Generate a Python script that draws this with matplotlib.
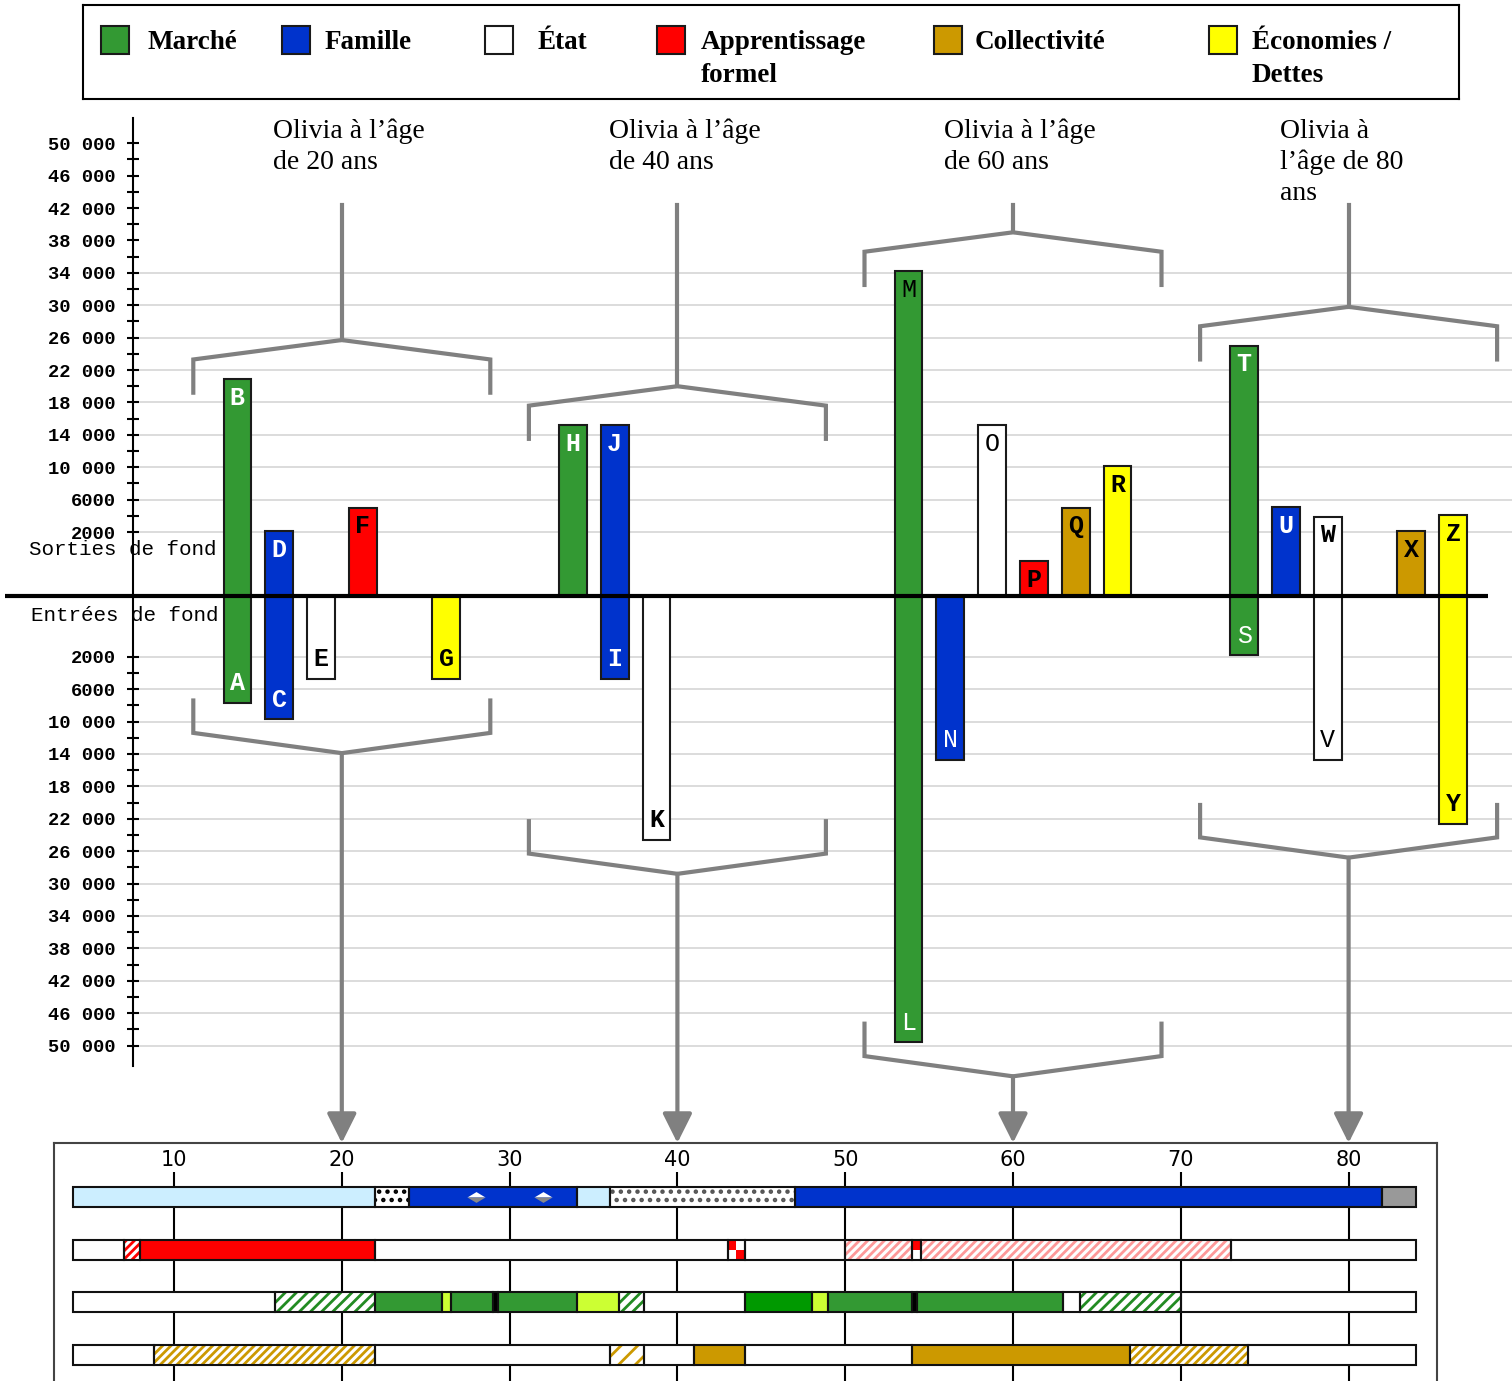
import numpy as np
import matplotlib.pyplot as plt
from matplotlib.patches import Rectangle
from matplotlib.path import Path

plt.rcParams['hatch.linewidth'] = 2.0

# ---------------- data ----------------
categories = ['Marché', 'Famille', 'État', 'Apprentissage\nformel', 'Collectivité', 'Économies /\nDettes']
cat_colors = ['#339933', '#0033cc', '#ffffff', '#ff0000', '#cc9900', '#ffff00']

group_ages = [20, 40, 60, 80]
group_titles = ['Olivia à l’âge\nde 20 ans', 'Olivia à l’âge\nde 40 ans',
                'Olivia à l’âge\nde 60 ans', 'Olivia à\nl’âge de 80\nans']

bar_letters = list('ABCDEFGHIJKLMNOPQRSTUVWXYZ')
bar_ages = [20] * 7 + [40] * 4 + [60] * 7 + [80] * 8
bar_cats = [0, 0, 1, 1, 2, 3, 5,
            0, 1, 1, 2,
            0, 0, 1, 2, 3, 4, 5,
            0, 0, 1, 2, 2, 4, 5, 5]
# milliers ; positif = sorties de fond, négatif = entrées de fond
bar_values = [-13.2, 26.8, -15.2, 8.0, -10.2, 10.9, -10.2,
              21.1, -10.2, 21.1, -30.1,
              -55.1, 40.1, -20.2, 21.1, 4.3, 10.9, 16.0,
              -7.3, 30.9, 11.0, -20.2, 9.8, 8.0, -28.1, 10.0]
light_letters = ['L', 'M', 'N', 'O', 'S', 'V']

tick_values = list(range(2000, 50001, 2000))

# timeline (ages)
tl_ticks = [10, 20, 30, 40, 50, 60, 70, 80]
row0_starts = [4, 22, 24, 34, 36, 47, 82]
row0_ends = [22, 24, 34, 36, 47, 82, 84]
row0_kinds = ['lightblue', 'dots_big', 'blue', 'lightblue', 'dots', 'blue', 'grey']
row1_starts = [4, 7, 8, 22, 43, 44, 50, 54, 54.5, 73]
row1_ends = [7, 8, 22, 43, 44, 50, 54, 54.5, 73, 84]
row1_kinds = ['blank', 'redhatch', 'red', 'blank', 'redcheck', 'blank', 'pinkhatch', 'redhalf', 'pinkhatch', 'blank']
row2_starts = [4, 16, 22, 26, 26.5, 29, 29.3, 34, 36.5, 38, 44, 48, 49, 54, 54.3, 63, 64, 70]
row2_ends = [16, 22, 26, 26.5, 29, 29.3, 34, 36.5, 38, 44, 48, 49, 54, 54.3, 63, 64, 70, 84]
row2_kinds = ['blank', 'greenhatch', 'green', 'lime', 'green', 'black', 'green', 'lime', 'greenhatch', 'blank',
              'darkgreen', 'lime', 'green', 'black', 'green', 'blank', 'greenhatch', 'blank']
row3_starts = [4, 8.8, 22, 36, 38, 41, 44, 54, 67, 74]
row3_ends = [8.8, 22, 36, 38, 41, 44, 54, 67, 74, 84]
row3_kinds = ['blank', 'goldhatch', 'blank', 'goldhatch_big', 'blank', 'gold', 'blank', 'gold', 'goldhatch', 'blank']
diamond_ages = [28, 32]

seg_style = {
    'blank': ('white', None, None),
    'lightblue': ('#cceeff', None, None),
    'blue': ('#0033cc', None, None),
    'grey': ('#999999', None, None),
    'dots_big': ('white', '..', '#000000'),
    'dots': ('white', '..', '#555555'),
    'red': ('#ff0000', None, None),
    'redhatch': ('white', '////', '#ff0000'),
    'pinkhatch': ('white', '////', '#ff9999'),
    'redcheck': ('white', None, None),
    'redhalf': ('white', None, None),
    'green': ('#339933', None, None),
    'darkgreen': ('#009900', None, None),
    'lime': ('#ccff33', None, None),
    'black': ('#000000', None, None),
    'greenhatch': ('white', '///', '#228b22'),
    'gold': ('#cc9900', None, None),
    'goldhatch': ('white', '////', '#cc9900'),
    'goldhatch_big': ('white', '//', '#cc9900'),
}

# ---------------- layout helpers (pixels -> data) ----------------
W, H = 1512, 1381
PX_YEAR, PX_K, BASE_PX = 16.78, 8.1, 596
UP_GAP, LO_GAP = 5.9, 5.5
GRAY = '#808080'


def age_at(px):
    return 10 + (px - 174) / PX_YEAR


def val_at(py):
    return (BASE_PX - py) / PX_K


def fmt(v):
    return str(v) if v < 10000 else f'{v // 1000} {v % 1000:03d}'


fig = plt.figure(figsize=(W / 100, H / 100), dpi=100)

# ---------------- main chart ----------------
ax = fig.add_axes([0, 1 - 1143 / H, 1, (1143 - 105) / H])
ax.set_zorder(3)
ax.patch.set_visible(False)
ax.set_xlim(age_at(0), age_at(W))
ax.set_ylim(val_at(1143), val_at(105))
for s in ['top', 'right', 'bottom']:
    ax.spines[s].set_visible(False)
ax.spines['left'].set_position(('data', age_at(133)))
ax.spines['left'].set_bounds(val_at(1066), val_at(118))
ax.spines['left'].set_linewidth(1.5)
ax.set_xticks([])

up_ticks = [UP_GAP + v / 1000 for v in tick_values]
lo_ticks = [-(LO_GAP + v / 1000) for v in tick_values]
labels = [fmt(v) if (v - 2000) % 4000 == 0 else '' for v in tick_values]
ax.set_yticks(up_ticks + lo_ticks, labels + labels)
ax.tick_params(axis='y', direction='inout', length=9, width=1.5, pad=8, labelsize=13.5)
for lab in ax.get_yticklabels():
    lab.set_fontfamily('Liberation Mono')
    lab.set_fontweight('bold')

grid_up = [UP_GAP + v / 1000 for v in tick_values if (v - 2000) % 4000 == 0 and v <= 34000]
grid_lo = [-(LO_GAP + v / 1000) for v in tick_values if (v - 2000) % 4000 == 0]
ax.hlines(grid_up + grid_lo, age_at(133), age_at(W), colors='#d6d6d6', lw=1.2, zorder=0.5)

ax.text(age_at(29), val_at(549), 'Sorties de fond', family='Liberation Mono', fontsize=15,
        ha='left', va='center', zorder=2)
ax.text(age_at(31), val_at(615), 'Entrées de fond', family='Liberation Mono', fontsize=15,
        ha='left', va='center', zorder=2)

slot, bw = 2.49, 1.65
xs = [a + (c - 2.5) * slot for a, c in zip(bar_ages, bar_cats)]
ax.bar(xs, bar_values, width=bw, color=[cat_colors[c] for c in bar_cats],
       edgecolor='#1a1a1a', linewidth=1.5, zorder=3)
for x, v, l, c in zip(xs, bar_values, bar_letters, bar_cats):
    y = v - 2.3 if v > 0 else v + 2.4
    col = 'white' if c in (0, 1) and l != 'M' else 'black'
    wt = 'normal' if l in light_letters else 'bold'
    ax.text(x, y, l, ha='center', va='center', color=col, fontsize=18, fontweight=wt,
            family='Liberation Mono', zorder=4)

ax.hlines(0, age_at(5), age_at(1488), colors='black', lw=3, zorder=5)

HW = 8.85
for g, title in zip(group_ages, group_titles):
    vals = [v for a, v in zip(bar_ages, bar_values) if a == g]
    top, bot = max(vals), min(vals)
    ax.plot([g - HW, g - HW, g, g + HW, g + HW],
            [top - 1.7, top + 2.4, top + 4.8, top + 2.4, top - 1.7],
            color=GRAY, lw=3, solid_joinstyle='miter', zorder=2)
    ax.plot([g, g], [top + 4.8, val_at(205)], color=GRAY, lw=3, zorder=2)
    ax.plot([g - HW, g - HW, g, g + HW, g + HW],
            [bot + 2.3, bot - 1.7, bot - 4.2, bot - 1.7, bot + 2.3],
            color=GRAY, lw=3, solid_joinstyle='miter', zorder=2)
    ax.annotate('', xy=(g, 0), xycoords=('data', 'axes fraction'),
                xytext=(g, bot - 4.2), textcoords='data',
                arrowprops=dict(arrowstyle='-|>', color=GRAY, lw=3, mutation_scale=45,
                                shrinkA=0, shrinkB=0), zorder=2)
    ax.text(g - 4.1, val_at(119), title, ha='left', va='top', fontsize=20,
            family='Liberation Serif', linespacing=1.3)

# ---------------- legend ----------------
lx = fig.add_axes([83 / W, 1 - 99 / H, (1459 - 83) / W, 94 / H])
lx.set_xlim(0, 1376)
lx.set_ylim(94, 0)
lx.set_xticks([])
lx.set_yticks([])
for s in lx.spines.values():
    s.set_linewidth(1.5)
swatch_x = [18, 199, 402, 574, 851, 1126]
text_x = [64, 242, 455, 618, 892, 1169]
for sx, tx, name, col in zip(swatch_x, text_x, categories, cat_colors):
    lx.add_patch(Rectangle((sx, 21), 28, 28, facecolor=col, edgecolor='#1a1a1a', lw=1.5))
    lx.text(tx, 25, name, ha='left', va='top', fontsize=19.5, fontweight='bold',
            family='Liberation Serif', linespacing=1.4)

# ---------------- timeline ----------------
ROW_PX, ROW0_PX = 52.7, 1197


def row_at(py):
    return (py - ROW0_PX) / ROW_PX


bx = fig.add_axes([54 / W, 1 - 1397 / H, (1437 - 54) / W, (1397 - 1143) / H])
bx.set_xlim(age_at(54), age_at(1437))
bx.set_ylim(row_at(1397), row_at(1143))
bx.set_xticks([])
bx.set_yticks([])
for s in bx.spines.values():
    s.set_linewidth(1.5)
    s.set_edgecolor('#444444')

bx.vlines(tl_ticks, row_at(1172), row_at(1397), colors='black', lw=1.5, zorder=1)
for t in tl_ticks:
    bx.text(t, row_at(1160), str(t), ha='center', va='center', fontsize=15, family='DejaVu Sans')

ROW_H = 20 / ROW_PX
rows = [(row0_starts, row0_ends, row0_kinds), (row1_starts, row1_ends, row1_kinds),
        (row2_starts, row2_ends, row2_kinds), (row3_starts, row3_ends, row3_kinds)]
for r, (starts, ends, kinds) in enumerate(rows):
    for s, e, k in zip(starts, ends, kinds):
        fc, hatch, hc = seg_style[k]
        bx.barh(r, e - s, left=s, height=ROW_H, color=fc, hatch=hatch,
                edgecolor=hc if hatch else fc, linewidth=0, zorder=2)
        if k == 'redcheck':
            half = (e - s) / 2
            bx.barh(r - ROW_H / 4, half, left=s, height=ROW_H / 2, color='#ff0000', lw=0, zorder=2)
            bx.barh(r + ROW_H / 4, half, left=s + half, height=ROW_H / 2, color='#ff0000', lw=0, zorder=2)
        if k == 'redhalf':
            bx.barh(r - ROW_H / 4, e - s, left=s, height=ROW_H / 2, color='#ff0000', lw=0, zorder=2)
    bx.barh([r] * len(starts), np.array(ends) - np.array(starts), left=starts, height=ROW_H,
            fill=False, edgecolor='#111111', linewidth=1.5, zorder=3)

top_half = Path([(-1, 0), (0, 0.6), (1, 0), (-1, 0)], [Path.MOVETO, Path.LINETO, Path.LINETO, Path.CLOSEPOLY])
bot_half = Path([(-1, 0), (0, -0.6), (1, 0), (-1, 0)], [Path.MOVETO, Path.LINETO, Path.LINETO, Path.CLOSEPOLY])
bx.plot(diamond_ages, [0] * len(diamond_ages), ls='none', marker=top_half, ms=13,
        mfc='white', mec='none', zorder=4)
bx.plot(diamond_ages, [0] * len(diamond_ages), ls='none', marker=bot_half, ms=13,
        mfc='#888888', mec='none', zorder=4)

fig.savefig('out.png', dpi=100)
